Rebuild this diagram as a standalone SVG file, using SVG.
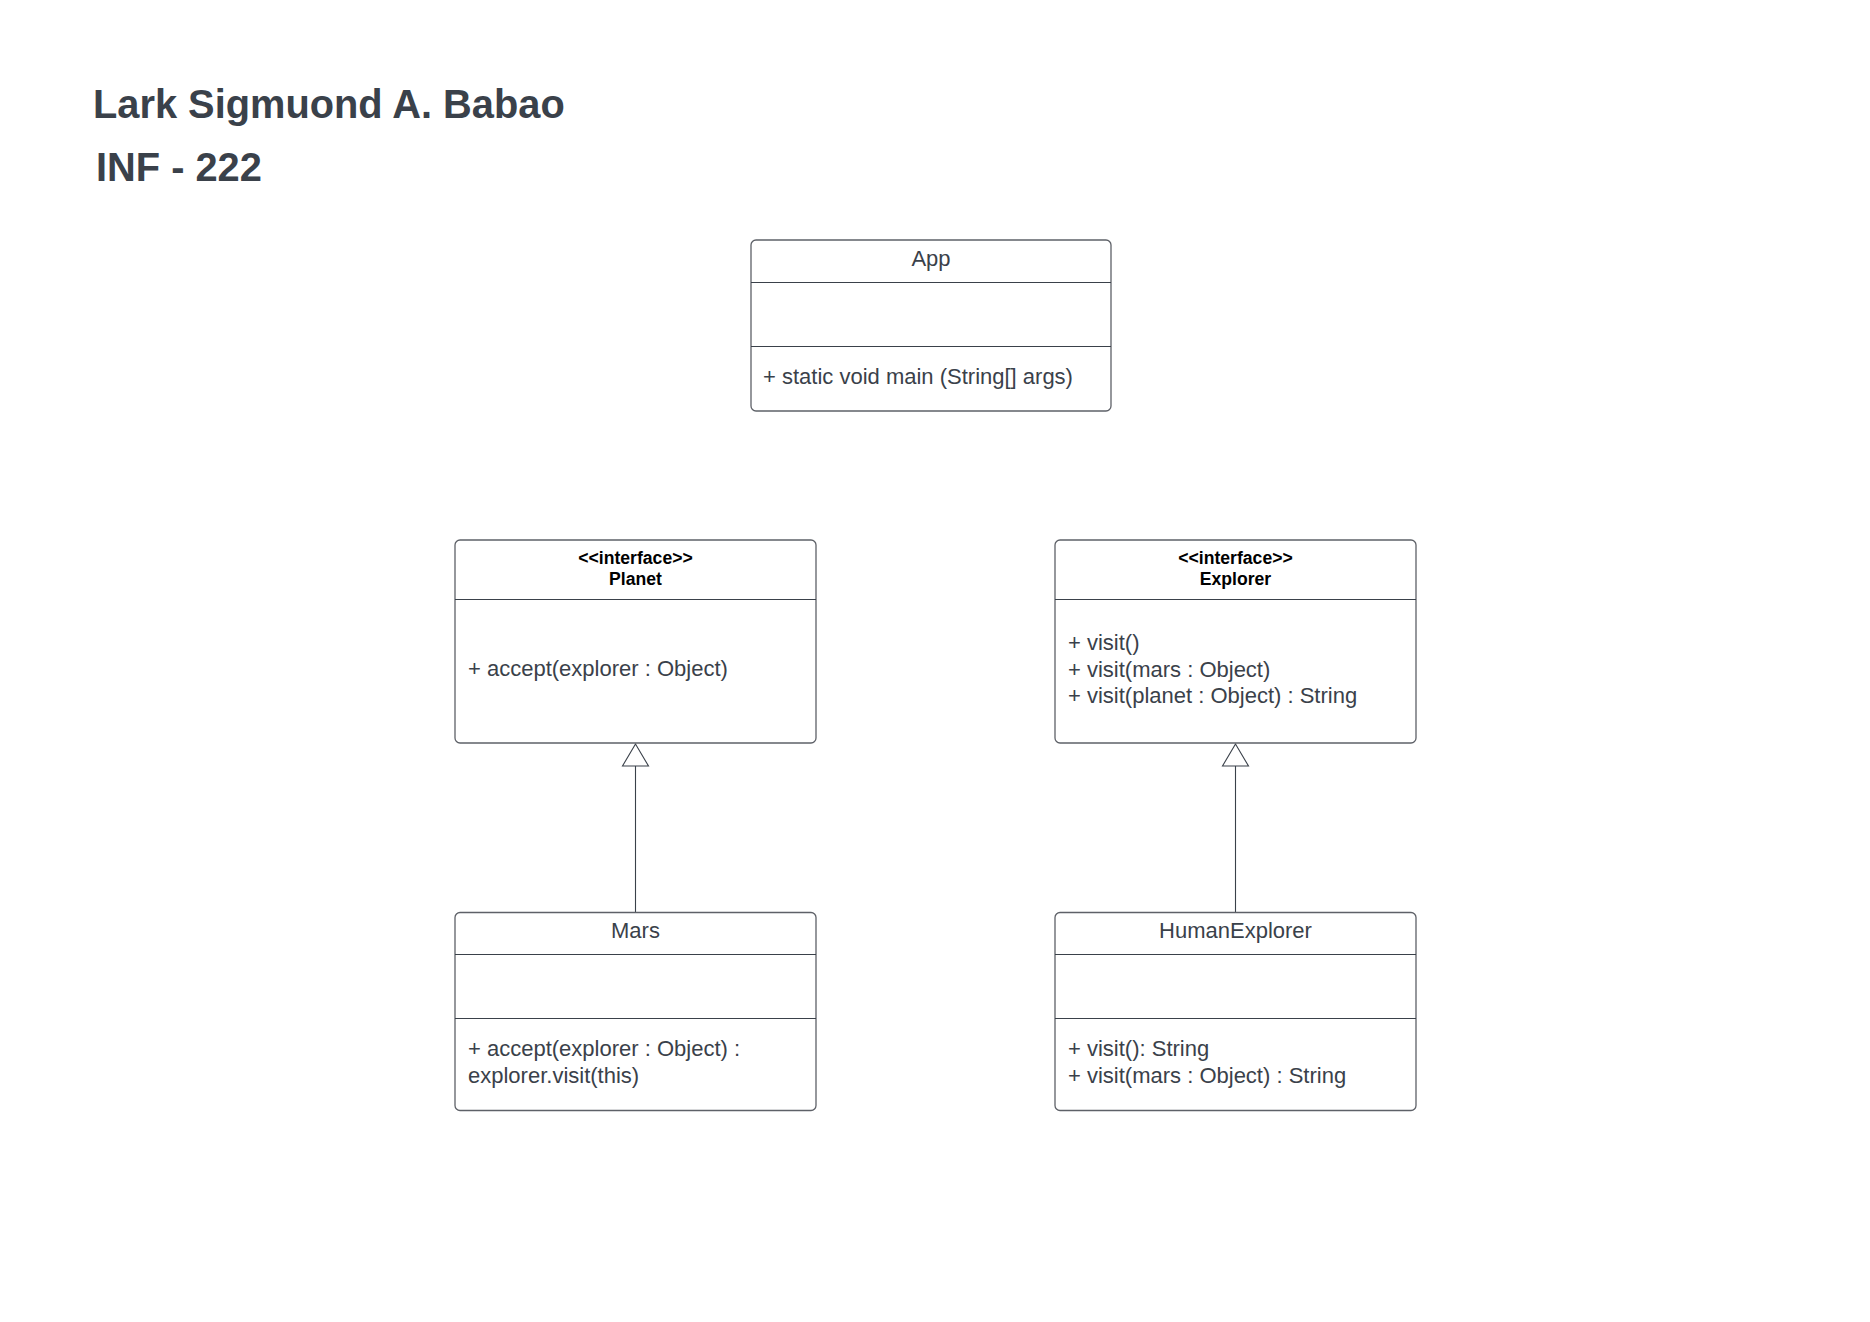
<svg xmlns="http://www.w3.org/2000/svg" width="1870" height="1322" viewBox="0 0 1870 1322">
<style>
.box{fill:#ffffff;stroke:#5e6168;stroke-width:1.3}
.div{stroke:#3a414a;stroke-width:1.1}
.t{font-family:"Liberation Sans",Arial,sans-serif;font-size:22px;fill:#3a414a}
.c{text-anchor:middle}
.s{font-family:"Liberation Sans",Arial,sans-serif;font-size:17.6px;font-weight:bold;fill:#000000;text-anchor:middle}
.h{font-family:"Liberation Sans",Arial,sans-serif;font-size:39.8px;font-weight:bold;fill:#3a414a}
.ln{stroke:#3a414a;stroke-width:1.1;fill:none}
.tri{fill:#ffffff;stroke:#3a414a;stroke-width:1.1}
</style>
<rect width="1870" height="1322" fill="#ffffff"/>
<text class="h" x="93" y="118">Lark Sigmuond A. Babao</text>
<text class="h" x="96" y="180.5">INF - 222</text>

<g id="connectors">
<line class="ln" x1="635.5" y1="766" x2="635.5" y2="912"/>
<polygon class="tri" points="635.5,744 622.5,766 648.5,766"/>
<line class="ln" x1="1235.5" y1="766" x2="1235.5" y2="912"/>
<polygon class="tri" points="1235.5,744 1222.5,766 1248.5,766"/>
</g>

<g id="App">
<rect class="box" x="751" y="240" width="360" height="171" rx="5"/>
<line class="div" x1="751" y1="282.5" x2="1111" y2="282.5"/>
<line class="div" x1="751" y1="346.5" x2="1111" y2="346.5"/>
<text class="t c" x="931" y="266">App</text>
<text class="t" x="763" y="384">+ static void main (String[] args)</text>
</g>

<g id="Planet">
<rect class="box" x="455" y="540" width="361" height="203" rx="5"/>
<line class="div" x1="455" y1="599.5" x2="816" y2="599.5"/>
<text class="s" x="635.5" y="563.5">&lt;&lt;interface&gt;&gt;</text>
<text class="s" x="635.5" y="584.5">Planet</text>
<text class="t" x="468" y="676">+ accept(explorer : Object)</text>
</g>

<g id="Explorer">
<rect class="box" x="1055" y="540" width="361" height="203" rx="5"/>
<line class="div" x1="1055" y1="599.5" x2="1416" y2="599.5"/>
<text class="s" x="1235.5" y="563.5">&lt;&lt;interface&gt;&gt;</text>
<text class="s" x="1235.5" y="584.5">Explorer</text>
<text class="t" x="1068" y="650">+ visit()</text>
<text class="t" x="1068" y="676.5">+ visit(mars : Object)</text>
<text class="t" x="1068" y="703">+ visit(planet : Object) : String</text>
</g>

<g id="Mars">
<rect class="box" x="455" y="912.5" width="361" height="198" rx="5"/>
<line class="div" x1="455" y1="954.5" x2="816" y2="954.5"/>
<line class="div" x1="455" y1="1018.5" x2="816" y2="1018.5"/>
<text class="t c" x="635.5" y="938">Mars</text>
<text class="t" x="468" y="1056">+ accept(explorer : Object) :</text>
<text class="t" x="468" y="1083">explorer.visit(this)</text>
</g>

<g id="HumanExplorer">
<rect class="box" x="1055" y="912.5" width="361" height="198" rx="5"/>
<line class="div" x1="1055" y1="954.5" x2="1416" y2="954.5"/>
<line class="div" x1="1055" y1="1018.5" x2="1416" y2="1018.5"/>
<text class="t c" x="1235.5" y="938">HumanExplorer</text>
<text class="t" x="1068" y="1056">+ visit(): String</text>
<text class="t" x="1068" y="1083">+ visit(mars : Object) : String</text>
</g>
</svg>
